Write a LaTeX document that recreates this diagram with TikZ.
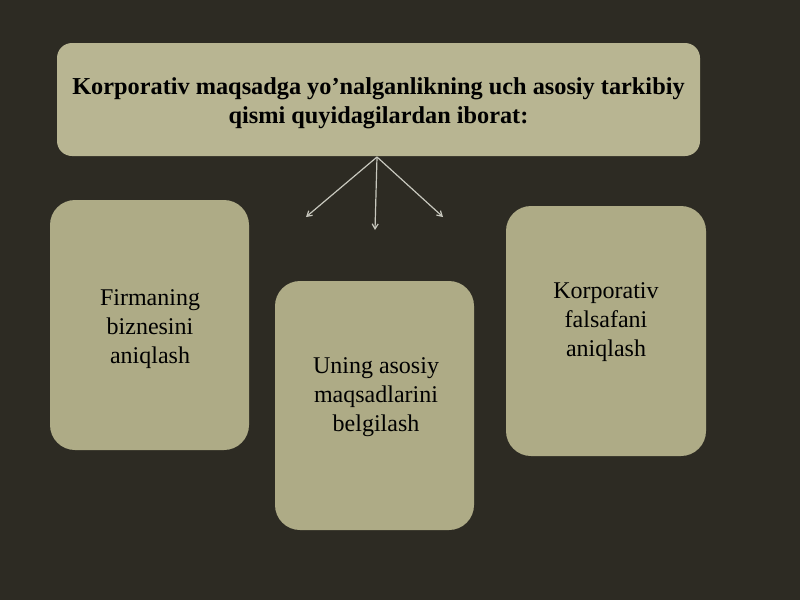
\documentclass[tikz,border=0pt]{standalone}
\usepackage{fontspec}
\setmainfont{Liberation Serif}
\usetikzlibrary{arrows.meta}
\definecolor{bgcol}{RGB}{45,43,35}
\definecolor{boxcol}{RGB}{174,171,134}
\definecolor{topcol}{RGB}{184,181,146}
\definecolor{arrcol}{RGB}{200,200,190}
\tikzset{
  card/.style={fill=boxcol, draw=none, rounded corners=25pt, inner sep=0pt},
  topcard/.style={fill=topcol, draw=none, rounded corners=15pt, inner sep=0pt},
  cardtext/.style={align=center, font=\fontsize{24}{29}\selectfont, text=black, inner sep=0pt},
  toptext/.style={align=center, font=\fontsize{24.3}{29}\selectfont\bfseries, text=black, inner sep=0pt},
  thinarrow/.style={draw=arrcol, line width=1.2pt, -{Straight Barb[length=5pt,width=6pt]}}
}
\begin{document}
\begin{tikzpicture}[x=1pt,y=-1pt]
\fill[bgcol] (0,0) rectangle (800,600);
\useasboundingbox (0,0) rectangle (800,600);
\node[topcard, minimum width=643pt, minimum height=113pt] (top) at (378.5,99.5) {};
\node[toptext] (toptxt) at (378.5,103) {Korporativ maqsadga yo’nalganlikning uch asosiy tarkibiy\\qismi quyidagilardan iborat:};
\node[card, minimum width=199pt, minimum height=250pt] (left) at (149.5,325) {};
\node[card, minimum width=199pt, minimum height=249pt] (mid) at (374.5,405.5) {};
\node[card, minimum width=200pt, minimum height=250pt] (right) at (606,331) {};
\node[cardtext] (lefttxt) at (150,329) {Firmaning\\biznesini\\aniqlash};
\node[cardtext] (midtxt) at (376,397) {Uning asosiy\\maqsadlarini\\belgilash};
\node[cardtext] (righttxt) at (606,322) {Korporativ\\falsafani\\aniqlash};
\coordinate (src) at (377,157);
\coordinate (e1) at (306,217);
\coordinate (e2) at (375,230);
\coordinate (e3) at (443,217);
\draw[thinarrow] (src) -- (e1);
\draw[thinarrow] (src) -- (e2);
\draw[thinarrow] (src) -- (e3);
\end{tikzpicture}
\end{document}
